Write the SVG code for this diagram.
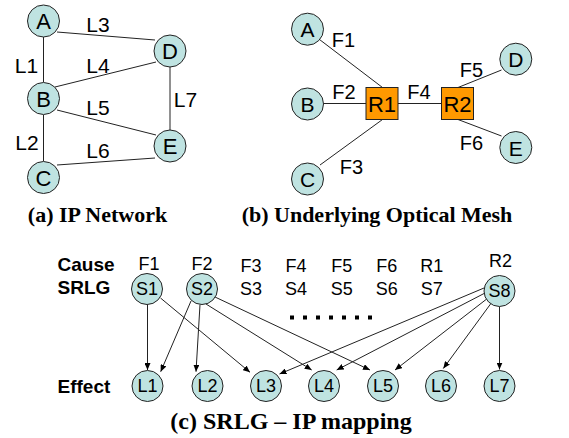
<svg xmlns="http://www.w3.org/2000/svg" width="569" height="438" viewBox="0 0 569 438">
  <style>
    .bg { fill: #ffffff; }
    .node circle { fill: #bfe3e1; stroke: #222222; stroke-width: 1; }
    .node rect { fill: #ff9900; stroke: #222222; stroke-width: 1; }
    .edge { stroke: #222222; stroke-width: 1; fill: none; }
    .arrow { stroke: #222222; stroke-width: 1; fill: none; marker-end: url(#head); }
    .t { font-family: "Liberation Sans", Arial, sans-serif; fill: #000000; text-anchor: middle; }
    .n21 { font-size: 21px; }
    .n22 { font-size: 22px; }
    .n20 { font-size: 20px; }
    .n18 { font-size: 18px; }
    .hdr { font-family: "Liberation Sans", Arial, sans-serif; font-weight: bold; font-size: 19px; fill: #000000; }
    .cap { font-family: "Liberation Serif", "Times New Roman", serif; font-weight: bold; font-size: 22px; fill: #000000; text-anchor: middle; }
    .dots { stroke: #000000; stroke-width: 4; stroke-dasharray: 4 9; fill: none; }
  </style>
  <defs>
    <marker id="head" markerUnits="userSpaceOnUse" markerWidth="8" markerHeight="6" refX="7" refY="3" orient="auto">
      <path d="M0,0 L7,3 L0,6 Z" fill="#000000"/>
    </marker>
  </defs>
  <rect class="bg" x="0" y="0" width="569" height="438"/>

  <!-- (a) IP network: links -->
  <g id="ip-links">
    <line class="edge" x1="43.5" y1="37" x2="43.5" y2="82"/>
    <line class="edge" x1="43.5" y1="115" x2="43.5" y2="161"/>
    <line class="edge" x1="57" y1="32" x2="155" y2="40"/>
    <line class="edge" x1="55" y1="87" x2="156" y2="62"/>
    <line class="edge" x1="57" y1="110" x2="156" y2="135"/>
    <line class="edge" x1="57" y1="165" x2="155" y2="158"/>
    <line class="edge" x1="170" y1="67" x2="170" y2="130"/>
  </g>
  <g id="ip-link-labels">
    <text class="t n21" x="98" y="31.5">L3</text>
    <text class="t n21" x="26.5" y="72.5">L1</text>
    <text class="t n21" x="98" y="72.5">L4</text>
    <text class="t n21" x="185.5" y="106.5">L7</text>
    <text class="t n21" x="98" y="115">L5</text>
    <text class="t n21" x="27" y="150">L2</text>
    <text class="t n21" x="98" y="158">L6</text>
  </g>
  <g id="ip-A" class="node"><circle cx="43.5" cy="21" r="16"/><text class="t n22" x="43.5" y="29">A</text></g>
  <g id="ip-D" class="node"><circle cx="170" cy="51" r="16"/><text class="t n22" x="170" y="59">D</text></g>
  <g id="ip-B" class="node"><circle cx="43.5" cy="98.5" r="16"/><text class="t n22" x="43.5" y="106.5">B</text></g>
  <g id="ip-E" class="node"><circle cx="170" cy="146" r="16"/><text class="t n22" x="170" y="154">E</text></g>
  <g id="ip-C" class="node"><circle cx="43.5" cy="177.5" r="16"/><text class="t n22" x="43.5" y="185.5">C</text></g>
  <text class="cap" x="97.5" y="222">(a) IP Network</text>

  <!-- (b) underlying optical mesh: fibres -->
  <g id="optical-fibres">
    <line class="edge" x1="319.5" y1="39.5" x2="382.5" y2="87.5"/>
    <line class="edge" x1="323.5" y1="103.5" x2="366" y2="103.5"/>
    <line class="edge" x1="320" y1="165" x2="382.5" y2="119.5"/>
    <line class="edge" x1="398" y1="103.5" x2="441.5" y2="103.5"/>
    <line class="edge" x1="458" y1="87.5" x2="501.5" y2="70"/>
    <line class="edge" x1="458" y1="119.5" x2="501.5" y2="136"/>
  </g>
  <g id="fibre-labels">
    <text class="t n20" x="343.5" y="46.5">F1</text>
    <text class="t n20" x="344" y="99">F2</text>
    <text class="t n20" x="419" y="99">F4</text>
    <text class="t n20" x="471.5" y="76.5">F5</text>
    <text class="t n20" x="471.5" y="150">F6</text>
    <text class="t n20" x="351.5" y="174">F3</text>
  </g>
  <g id="opt-A" class="node"><circle cx="307.5" cy="29.2" r="16"/><text class="t n21" x="307.5" y="37">A</text></g>
  <g id="opt-B" class="node"><circle cx="307.5" cy="104" r="16"/><text class="t n21" x="307.5" y="112">B</text></g>
  <g id="opt-C" class="node"><circle cx="307.5" cy="179" r="16"/><text class="t n21" x="307.5" y="187">C</text></g>
  <g id="opt-D" class="node"><circle cx="515.8" cy="59.2" r="16"/><text class="t n21" x="515.8" y="67">D</text></g>
  <g id="opt-E" class="node"><circle cx="515.8" cy="147.5" r="16"/><text class="t n21" x="515.8" y="155.5">E</text></g>
  <g id="router-R1" class="node"><rect x="366" y="87.5" width="32" height="32"/><text class="t n22" x="382" y="112">R1</text></g>
  <g id="router-R2" class="node"><rect x="441.5" y="87.5" width="32" height="32"/><text class="t n22" x="457.5" y="112">R2</text></g>
  <text class="cap" x="377" y="222">(b) Underlying Optical Mesh</text>

  <!-- (c) SRLG to IP link mapping -->
  <g id="row-headers">
    <text class="hdr" x="57.5" y="270.5">Cause</text>
    <text class="hdr" x="57.5" y="293.5">SRLG</text>
    <text class="hdr" x="57.5" y="392.5">Effect</text>
  </g>
  <g id="cause-labels">
    <text class="t n18" x="149" y="270">F1</text>
    <text class="t n18" x="202" y="270">F2</text>
    <text class="t n18" x="251" y="271.5">F3</text>
    <text class="t n18" x="296" y="271.5">F4</text>
    <text class="t n18" x="341.7" y="271.5">F5</text>
    <text class="t n18" x="386.7" y="271.5">F6</text>
    <text class="t n18" x="431.7" y="271.5">R1</text>
    <text class="t n18" x="500.5" y="267">R2</text>
  </g>
  <g id="srlg-labels">
    <text class="t n18" x="251" y="295">S3</text>
    <text class="t n18" x="296" y="295">S4</text>
    <text class="t n18" x="341.7" y="295">S5</text>
    <text class="t n18" x="386.7" y="295">S6</text>
    <text class="t n18" x="431.7" y="295">S7</text>
  </g>
  <path class="dots" d="M290,317.5 H372"/>

  <g id="srlg-connectors">
    <line class="arrow" x1="147.5" y1="304.5" x2="147.5" y2="370"/>
    <line class="arrow" x1="160.5" y1="298" x2="250" y2="372.3"/>
    <line class="arrow" x1="191" y1="301" x2="160.7" y2="371.7"/>
    <line class="arrow" x1="200" y1="304.5" x2="196" y2="371.7"/>
    <line class="arrow" x1="206" y1="304" x2="311.7" y2="370"/>
    <line class="arrow" x1="215" y1="297" x2="370" y2="370"/>
    <line class="arrow" x1="484" y1="288" x2="279.5" y2="374"/>
    <line class="arrow" x1="485" y1="293" x2="336.7" y2="370"/>
    <line class="arrow" x1="488" y1="298" x2="395" y2="370"/>
    <line class="arrow" x1="492" y1="302" x2="443.3" y2="368.5"/>
    <line class="arrow" x1="499.5" y1="306.5" x2="499.5" y2="369.5"/>
  </g>

  <g id="srlg-S1" class="node"><circle cx="147" cy="289" r="15.5"/><text class="t n18" x="147" y="294.5">S1</text></g>
  <g id="srlg-S2" class="node"><circle cx="202" cy="289" r="15.5"/><text class="t n18" x="202" y="294.5">S2</text></g>
  <g id="srlg-S8" class="node"><circle cx="499.5" cy="291" r="15.5"/><text class="t n18" x="499.5" y="296.5">S8</text></g>

  <g id="link-L1" class="node"><circle cx="147.5" cy="386" r="15.5"/><text class="t n18" x="147.5" y="391.5">L1</text></g>
  <g id="link-L2" class="node"><circle cx="207.5" cy="386" r="15.5"/><text class="t n18" x="207.5" y="391.5">L2</text></g>
  <g id="link-L3" class="node"><circle cx="266" cy="386" r="15.5"/><text class="t n18" x="266" y="391.5">L3</text></g>
  <g id="link-L4" class="node"><circle cx="324" cy="386" r="15.5"/><text class="t n18" x="324" y="391.5">L4</text></g>
  <g id="link-L5" class="node"><circle cx="383" cy="386" r="15.5"/><text class="t n18" x="383" y="391.5">L5</text></g>
  <g id="link-L6" class="node"><circle cx="441" cy="386" r="15.5"/><text class="t n18" x="441" y="391.5">L6</text></g>
  <g id="link-L7" class="node"><circle cx="499.5" cy="386" r="15.5"/><text class="t n18" x="499.5" y="391.5">L7</text></g>

  <text class="cap" x="291" y="428.5" style="font-size:24px">(c) SRLG – IP mapping</text>
</svg>
